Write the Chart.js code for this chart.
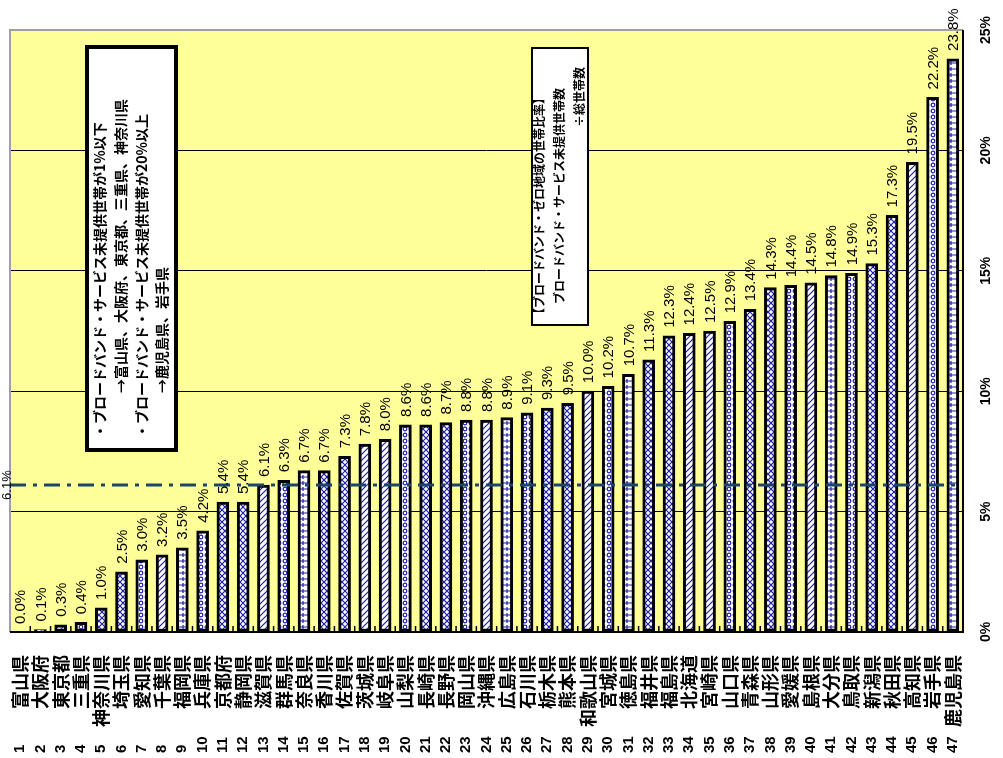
<!DOCTYPE html>
<html lang="ja">
<head>
<meta charset="utf-8">
<script src="https://cdn.jsdelivr.net/npm/chart.js@4/dist/chart.umd.min.js"></script>
<style>
  body { margin: 0; background: #fff; }
  #wrap { width: 1003px; height: 758px; position: relative; }
</style>
</head>
<body>
<div id="wrap"><canvas id="chart"></canvas></div>
<script>
// ===== データ =====
const prefNames = [
  "富山県", "大阪府", "東京都", "三重県", "神奈川県", "埼玉県", "愛知県", "千葉県",
  "福岡県", "兵庫県", "京都府", "静岡県", "滋賀県", "群馬県", "奈良県", "香川県",
  "佐賀県", "茨城県", "岐阜県", "山梨県", "長崎県", "長野県", "岡山県", "沖縄県",
  "広島県", "石川県", "栃木県", "熊本県", "和歌山県", "宮城県", "徳島県", "福井県",
  "福島県", "北海道", "宮崎県", "山口県", "青森県", "山形県", "愛媛県", "島根県",
  "大分県", "鳥取県", "新潟県", "秋田県", "高知県", "岩手県", "鹿児島県"
];
const zeroRates = [
  0.0, 0.1, 0.3, 0.4, 1.0, 2.5, 3.0, 3.2, 3.5, 4.2, 5.4, 5.4, 6.1, 6.3, 6.7, 6.7,
  7.3, 7.8, 8.0, 8.6, 8.6, 8.7, 8.8, 8.8, 8.9, 9.1, 9.3, 9.5, 10.0, 10.2, 10.7, 11.3,
  12.3, 12.4, 12.5, 12.9, 13.4, 14.3, 14.4, 14.5, 14.8, 14.9, 15.3, 17.3, 19.5, 22.2, 23.8
];
const nationalAvg = 6.1;
const yTicks = [0, 5, 10, 15, 20, 25];
const noteLines = [
  "・ブロードバンド・サービス未提供世帯が1%以下",
  "→富山県、大阪府、東京都、三重県、神奈川県",
  "・ブロードバンド・サービス未提供世帯が20%以上",
  "→鹿児島県、岩手県"
];
const formulaLines = [
  "【ブロードバンド・ゼロ地域の世帯比率】",
  "ブロードバンド・サービス未提供世帯数",
  "÷総世帯数"
];

const JP = "'Noto Sans CJK JP', sans-serif";
const LAT = "'Liberation Sans', Arial, sans-serif";

// ===== 棒の模様 =====
const canvas = document.getElementById("chart");
const mainCtx = canvas.getContext("2d");

function makePattern(type) {
  const c = document.createElement("canvas");
  c.width = 6; c.height = 6;
  const g = c.getContext("2d");
  g.fillStyle = "#ffffff";
  g.fillRect(0, 0, 6, 6);
  g.strokeStyle = "#1f1fa8";
  g.lineWidth = 1.2;
  g.beginPath();
  if (type === 0) {        // x x
    g.moveTo(0, 0); g.lineTo(6, 6); g.moveTo(6, 0); g.lineTo(0, 6);
  } else if (type === 1) { // ////
    g.moveTo(0, 6); g.lineTo(6, 0); g.moveTo(-3, 3); g.lineTo(3, -3); g.moveTo(3, 9); g.lineTo(9, 3);
  } else if (type === 2) { // o o
    g.arc(3, 3, 1.8, 0, Math.PI * 2);
  } else if (type === 3) { // zigzag
    g.moveTo(0, 0); g.lineTo(3, 3); g.lineTo(0, 6); g.moveTo(6, 0); g.lineTo(3, 3); g.lineTo(6, 6);
  } else {                 // + +
    g.moveTo(0, 3); g.lineTo(6, 3); g.moveTo(3, 1); g.lineTo(3, 5);
  }
  g.stroke();
  return mainCtx.createPattern(c, "repeat");
}
const patternOrder = [0, 1, 1, 2, 0, 3, 2, 1, 4, 2, 3, 0, 1, 2, 4, 3];
const barFills = zeroRates.map((v, i) => makePattern(patternOrder[i % patternOrder.length]));

// ===== 回転テキスト =====
function rotText(ctx, text, x, y, align) {
  ctx.save();
  ctx.translate(x, y);
  ctx.rotate(-Math.PI / 2);
  ctx.textAlign = align;
  ctx.textBaseline = "middle";
  ctx.fillText(text, 0, 0);
  ctx.restore();
}

const decorPlugin = {
  id: "decor",
  beforeDraw(chart) {
    const { ctx, chartArea: a } = chart;
    ctx.save();
    ctx.fillStyle = "#ffff99";
    ctx.fillRect(a.left, a.top, a.right - a.left, a.bottom - a.top);
    ctx.restore();
  },
  afterDatasetsDraw(chart) {
    const { ctx, chartArea: a } = chart;
    const xs = chart.scales.x;
    const ys = chart.scales.y;
    const bars = chart.getDatasetMeta(0).data;
    ctx.save();

    // 全国平均線
    const ay = ys.getPixelForValue(nationalAvg);
    ctx.strokeStyle = "#1b4569";
    ctx.lineWidth = 3;
    ctx.setLineDash([16, 7, 4, 7]);
    ctx.beginPath();
    ctx.moveTo(a.left, ay);
    ctx.lineTo(a.right, ay);
    ctx.stroke();
    ctx.setLineDash([]);

    // 枠
    ctx.lineWidth = 2;
    ctx.strokeStyle = "#a0a0a0";
    ctx.beginPath();
    ctx.moveTo(a.left, a.bottom); ctx.lineTo(a.left, a.top); ctx.lineTo(a.right, a.top);
    ctx.stroke();
    ctx.strokeStyle = "#000";
    ctx.beginPath();
    ctx.moveTo(a.right, a.top); ctx.lineTo(a.right, a.bottom); ctx.lineTo(a.left, a.bottom);
    ctx.stroke();

    // 目盛り
    ctx.lineWidth = 1.5;
    const step = (a.right - a.left) / prefNames.length;
    ctx.beginPath();
    for (let i = 1; i < prefNames.length; i++) {
      const tx = xs.getPixelForTick(i) - step / 2;
      ctx.moveTo(tx, a.bottom);
      ctx.lineTo(tx, a.bottom - 6);
    }
    ctx.stroke();

    // 値ラベル
    ctx.fillStyle = "#000";
    ctx.font = "15px " + LAT;
    bars.forEach((b, i) => {
      rotText(ctx, zeroRates[i].toFixed(1) + "%", b.x + 1, b.y - 8, "left");
    });

    // 平均ラベル
    ctx.font = "13px " + LAT;
    rotText(ctx, nationalAvg.toFixed(1) + "%", a.left - 3, ay, "center");

    // 右軸ラベル
    ctx.font = "bold 14px " + LAT;
    yTicks.forEach(t => {
      rotText(ctx, t + "%", 986, ys.getPixelForValue(t), "center");
    });

    // 県名と順位
    prefNames.forEach((name, i) => {
      const px = xs.getPixelForTick(i);
      ctx.font = "bold 18px " + JP;
      rotText(ctx, name, px, a.bottom + 23, "right");
      ctx.font = "bold 15px " + LAT;
      rotText(ctx, String(i + 1), px, 753, "left");
    });

    // 注記ボックス1
    ctx.fillStyle = "#fff";
    ctx.fillRect(87, 47, 89, 403);
    ctx.lineWidth = 4;
    ctx.strokeStyle = "#000";
    ctx.strokeRect(87, 47, 89, 403);
    ctx.fillStyle = "#000";
    ctx.font = "bold 14px " + JP;
    const noteX = [100, 121, 142, 162];
    const noteY = [438, 393, 438, 393];
    noteLines.forEach((t, i) => rotText(ctx, t, noteX[i], noteY[i], "left"));

    // 注記ボックス2
    ctx.fillStyle = "#fff";
    ctx.fillRect(532, 48, 56, 277);
    ctx.lineWidth = 2;
    ctx.strokeRect(532, 48, 56, 277);
    ctx.fillStyle = "#000";
    ctx.font = "bold 12px " + JP;
    rotText(ctx, formulaLines[0], 539, 320, "left");
    rotText(ctx, formulaLines[1], 559, 304, "left");
    rotText(ctx, formulaLines[2], 579, 127, "left");

    ctx.restore();
  }
};

new Chart(canvas, {
  type: "bar",
  data: {
    labels: prefNames,
    datasets: [{
      data: zeroRates,
      backgroundColor: barFills,
      borderColor: "#000",
      borderWidth: 3,
      borderSkipped: false,
      barThickness: 12
    }]
  },
  options: {
    responsive: true,
    maintainAspectRatio: false,
    animation: false,
    layout: { padding: { left: 10, top: 30, right: 40, bottom: 126 } },
    plugins: { legend: { display: false }, tooltip: { enabled: false } },
    scales: {
      x: {
        ticks: { display: false },
        grid: { display: false, drawTicks: false },
        border: { display: false }
      },
      y: {
        position: "right",
        min: 0,
        max: 25,
        ticks: { display: false, stepSize: 5 },
        grid: {
          drawTicks: false,
          lineWidth: 1,
          color: c => (c.tick && c.tick.value > 0 && c.tick.value < 25) ? "#000" : "rgba(0,0,0,0)"
        },
        border: { display: false }
      }
    }
  },
  plugins: [decorPlugin]
});
</script>
</body>
</html>
